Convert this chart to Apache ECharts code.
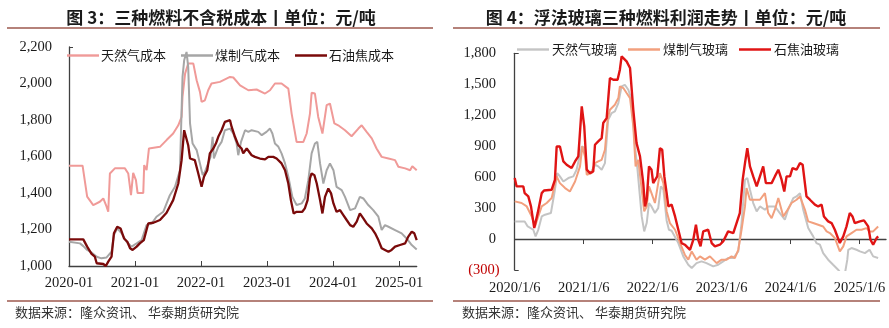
<!DOCTYPE html>
<html><head><meta charset="utf-8">
<script src="https://cdn.jsdelivr.net/npm/echarts@6/dist/echarts.min.js"></script>
<style>html,body{margin:0;padding:0;background:#fff}#c{width:889px;height:328px}</style>
</head><body><div id="c"></div>
<script>
// ---------- Chart 3: cost (元/吨) ----------
const leftTicks = ['2020-01','2021-01','2022-01','2023-01','2024-01','2025-01'];
const gasCostDates = ['2020-01-01','2020-03-15','2020-04-10','2020-05-13','2020-06-19','2020-07-08','2020-07-26','2020-08-05','2020-08-14','2020-09-11','2020-11-06','2020-11-24','2020-12-09','2020-12-21','2021-01-06','2021-01-15','2021-02-16','2021-02-21','2021-03-04','2021-03-17','2021-05-17','2021-06-23','2021-07-29','2021-08-27','2021-09-15','2021-09-20','2021-10-04','2021-10-21','2021-11-19','2021-12-07','2021-12-25','2022-01-04','2022-01-22','2022-02-10','2022-02-28','2022-04-14','2022-06-09','2022-06-27','2022-08-04','2022-09-19','2022-11-04','2022-12-20','2023-01-17','2023-02-14','2023-03-20','2023-04-27','2023-05-15','2023-06-12','2023-07-19','2023-08-07','2023-08-25','2023-09-04','2023-09-22','2023-10-10','2023-11-03','2023-11-26','2023-12-14','2024-01-08','2024-01-29','2024-03-06','2024-04-12','2024-05-19','2024-06-07','2024-07-04','2024-08-02','2024-08-28','2024-09-26','2024-11-03','2024-12-09','2024-12-27','2025-02-04','2025-03-01','2025-03-13','2025-04-07'];
const gasCost = [1550,1550,1380,1334,1352,1370,1325,1297,1507,1535,1535,1507,1388,1510,1470,1400,1400,1553,1525,1644,1653,1690,1726,1771,1817,1927,2054,2109,2109,2018,1954,1899,1908,1963,2000,2009,2036,2033,1990,1963,1967,1945,1963,2000,2000,1972,1835,1680,1680,1726,1835,1949,1945,1817,1726,1881,1890,1781,1771,1744,1711,1753,1771,1735,1699,1644,1598,1589,1580,1544,1535,1525,1547,1525];

const coalCostDates = ['2020-01-01','2020-03-01','2020-03-19','2020-04-10','2020-05-04','2020-06-02','2020-06-28','2020-07-26','2020-08-23','2020-09-06','2020-09-24','2020-10-18','2020-11-15','2020-12-12','2021-01-10','2021-02-07','2021-03-04','2021-04-02','2021-04-28','2021-06-05','2021-07-11','2021-08-09','2021-09-06','2021-09-20','2021-09-29','2021-10-12','2021-10-21','2021-11-01','2021-11-15','2021-12-07','2021-12-25','2022-01-10','2022-01-22','2022-02-10','2022-02-23','2022-03-04','2022-03-11','2022-04-05','2022-04-23','2022-05-11','2022-06-09','2022-06-27','2022-07-15','2022-07-24','2022-08-09','2022-09-01','2022-09-19','2022-10-07','2022-11-13','2022-12-02','2022-12-28','2023-01-17','2023-01-30','2023-02-14','2023-03-03','2023-03-20','2023-04-09','2023-04-27','2023-05-19','2023-06-12','2023-07-10','2023-07-27','2023-08-16','2023-09-04','2023-09-22','2023-10-05','2023-10-20','2023-11-08','2023-11-26','2023-12-14','2024-01-03','2024-01-20','2024-02-18','2024-03-06','2024-04-04','2024-05-01','2024-05-27','2024-06-16','2024-07-13','2024-08-10','2024-09-08','2024-09-26','2024-10-14','2024-11-03','2024-12-09','2025-01-15','2025-02-12','2025-03-10','2025-04-07'];
const coalCost = [1133,1124,1109,1088,1074,1051,1042,1047,1078,1170,1206,1179,1133,1106,1124,1142,1224,1233,1270,1297,1388,1434,1525,2036,2127,2173,2091,1781,1671,1635,1562,1498,1516,1562,1598,1708,1590,1653,1680,1744,1753,1726,1671,1607,1680,1744,1735,1744,1735,1717,1735,1753,1726,1671,1653,1617,1562,1489,1379,1334,1343,1370,1470,1617,1671,1680,1562,1452,1525,1562,1525,1434,1416,1379,1306,1316,1379,1370,1334,1306,1270,1197,1224,1215,1197,1179,1151,1115,1091];

const cokeCostDates = ['2020-01-01','2020-03-19','2020-04-10','2020-05-04','2020-05-22','2020-06-02','2020-07-08','2020-07-22','2020-08-05','2020-08-23','2020-09-06','2020-09-24','2020-10-12','2020-11-01','2020-11-19','2020-12-04','2020-12-18','2021-01-10','2021-01-27','2021-02-19','2021-03-13','2021-04-11','2021-05-17','2021-06-23','2021-07-29','2021-08-27','2021-09-15','2021-09-29','2021-10-09','2021-10-21','2021-11-01','2021-11-27','2021-12-16','2022-01-04','2022-01-17','2022-02-05','2022-02-19','2022-03-08','2022-03-22','2022-04-05','2022-04-23','2022-05-11','2022-06-09','2022-06-18','2022-07-06','2022-07-24','2022-08-12','2022-08-21','2022-09-10','2022-10-07','2022-10-25','2022-11-22','2022-12-20','2023-01-08','2023-02-05','2023-02-23','2023-03-20','2023-04-09','2023-04-27','2023-05-11','2023-05-26','2023-06-12','2023-07-13','2023-07-27','2023-08-12','2023-08-25','2023-09-04','2023-09-19','2023-10-02','2023-10-20','2023-11-03','2023-11-17','2023-12-05','2023-12-20','2024-01-03','2024-01-20','2024-02-09','2024-02-27','2024-03-15','2024-04-04','2024-04-21','2024-05-10','2024-05-27','2024-06-16','2024-07-04','2024-08-02','2024-08-20','2024-09-08','2024-09-26','2024-10-14','2024-11-03','2024-11-20','2024-12-09','2025-01-06','2025-02-04','2025-02-21','2025-03-10','2025-03-24','2025-04-07'];
const cokeCost = [1146,1146,1106,1066,1051,1015,1011,1000,1024,1051,1179,1215,1206,1151,1133,1097,1088,1106,1124,1142,1233,1237,1252,1292,1361,1452,1580,1744,1753,1662,1589,1580,1507,1434,1489,1525,1617,1644,1671,1708,1744,1790,1799,1762,1708,1662,1644,1617,1644,1607,1598,1589,1584,1598,1598,1589,1562,1525,1452,1361,1288,1297,1297,1316,1361,1480,1507,1498,1452,1361,1288,1379,1425,1398,1343,1297,1306,1279,1252,1224,1215,1243,1288,1261,1233,1206,1179,1142,1097,1088,1078,1088,1106,1115,1124,1161,1188,1179,1142];

// ---------- Chart 4: profit (元/吨) ----------
const rightTicks = ['2020/1/6','2021/1/6','2022/1/6','2023/1/6','2024/1/6','2025/1/6'];
const gasProfitDates = ['2020-01-06','2020-02-28','2020-03-14','2020-04-13','2020-04-25','2020-05-09','2020-05-27','2020-06-14','2020-07-15','2020-08-06','2020-08-18','2020-09-02','2020-09-20','2020-10-16','2020-11-12','2020-11-29','2020-12-26','2021-01-13','2021-01-25','2021-02-17','2021-03-05','2021-03-22','2021-04-10','2021-04-27','2021-05-14','2021-06-02','2021-06-19','2021-07-07','2021-07-24','2021-08-11','2021-08-29','2021-09-16','2021-10-04','2021-10-17','2021-11-09','2021-11-22','2021-12-05','2021-12-17','2021-12-30','2022-01-18','2022-02-05','2022-02-19','2022-03-02','2022-03-19','2022-04-01','2022-04-15','2022-05-20','2022-06-16','2022-07-12','2022-07-30','2022-08-25','2022-09-21','2022-10-17','2022-11-22','2022-12-18','2023-01-14','2023-02-10','2023-03-07','2023-04-03','2023-04-20','2023-05-08','2023-05-20','2023-06-04','2023-06-21','2023-07-09','2023-07-26','2023-08-22','2023-09-09','2023-10-14','2023-11-10','2023-12-06','2023-12-23','2024-01-20','2024-02-07','2024-02-25','2024-03-12','2024-04-08','2024-05-04','2024-05-21','2024-06-09','2024-06-26','2024-07-22','2024-08-18','2024-09-14','2024-10-02','2024-10-19','2024-11-02','2024-11-07','2024-11-24','2024-12-20','2025-01-08','2025-02-04','2025-02-28','2025-03-17','2025-04-13'];
const gasProfit = [171,171,122,90,26,90,219,236,252,478,639,607,558,591,607,672,897,881,639,655,720,704,672,736,1156,1221,1237,1318,1479,1495,1447,1350,897,672,219,74,155,349,316,252,300,510,478,180,90,80,-39,-168,-249,-281,-233,-216,-233,-265,-249,-216,-184,-184,-120,155,575,591,478,349,268,316,284,316,316,252,187,284,397,413,445,284,106,26,-39,-55,-136,-200,-249,-297,-340,-340,-200,-104,-87,-104,-120,-136,-104,-168,-184];

const coalProfitDates = ['2020-01-06','2020-02-12','2020-03-09','2020-04-05','2020-04-22','2020-05-09','2020-05-27','2020-06-23','2020-07-19','2020-08-15','2020-09-02','2020-09-29','2020-10-24','2020-11-21','2020-12-17','2020-12-29','2021-01-13','2021-01-22','2021-02-17','2021-03-05','2021-03-22','2021-04-10','2021-04-27','2021-05-11','2021-05-23','2021-06-19','2021-07-07','2021-07-15','2021-08-03','2021-08-20','2021-09-08','2021-09-25','2021-10-07','2021-10-21','2021-11-09','2021-11-22','2021-12-05','2021-12-17','2021-12-30','2022-01-18','2022-02-05','2022-02-14','2022-03-02','2022-03-19','2022-04-06','2022-05-03','2022-05-29','2022-06-24','2022-07-12','2022-07-30','2022-08-25','2022-09-13','2022-10-09','2022-11-05','2022-12-10','2023-01-06','2023-02-02','2023-02-28','2023-03-15','2023-04-03','2023-04-20','2023-05-08','2023-05-16','2023-06-04','2023-06-30','2023-07-26','2023-08-22','2023-09-09','2023-09-27','2023-10-14','2023-11-02','2023-11-28','2023-12-15','2024-01-11','2024-02-07','2024-02-25','2024-03-21','2024-04-08','2024-05-04','2024-05-30','2024-06-26','2024-07-14','2024-08-01','2024-08-27','2024-09-23','2024-10-11','2024-10-28','2024-11-24','2024-12-20','2025-01-16','2025-02-12','2025-02-28','2025-03-17','2025-04-13'];
const coalProfit = [365,349,316,219,122,219,316,349,397,607,542,494,461,558,704,897,801,623,639,736,752,768,865,1156,1253,1302,1366,1479,1463,1415,1366,1091,704,768,478,268,316,510,445,349,542,639,542,270,155,90,-39,-152,-200,-120,-200,-168,-200,-168,-233,-200,-200,-168,-184,-104,90,316,494,381,381,381,445,252,203,284,397,219,268,349,381,413,284,171,155,139,122,74,58,10,-120,-71,26,58,90,90,106,74,74,122];

const cokeProfitDates = ['2020-01-06','2020-01-16','2020-02-21','2020-02-28','2020-03-17','2020-04-01','2020-04-18','2020-05-06','2020-05-27','2020-06-09','2020-07-19','2020-08-06','2020-08-15','2020-09-02','2020-09-20','2020-10-07','2020-11-03','2020-11-21','2020-12-08','2020-12-26','2021-01-09','2021-01-22','2021-02-09','2021-02-26','2021-03-05','2021-03-22','2021-04-10','2021-04-18','2021-05-06','2021-05-23','2021-06-11','2021-07-03','2021-07-15','2021-07-24','2021-08-03','2021-08-20','2021-09-08','2021-09-25','2021-10-12','2021-10-30','2021-11-17','2021-11-26','2021-12-05','2021-12-17','2021-12-30','2022-01-09','2022-01-18','2022-01-30','2022-02-14','2022-02-26','2022-03-07','2022-03-19','2022-03-28','2022-04-15','2022-05-03','2022-05-20','2022-06-07','2022-06-24','2022-07-21','2022-08-08','2022-08-22','2022-09-04','2022-09-16','2022-09-30','2022-10-26','2022-11-14','2022-12-01','2022-12-27','2023-01-14','2023-02-10','2023-03-07','2023-03-24','2023-04-11','2023-04-26','2023-05-08','2023-05-20','2023-06-04','2023-06-21','2023-07-09','2023-07-26','2023-08-13','2023-08-27','2023-09-27','2023-10-14','2023-11-02','2023-11-19','2023-12-03','2023-12-15','2024-01-03','2024-01-16','2024-02-07','2024-02-25','2024-03-09','2024-03-29','2024-04-17','2024-05-13','2024-05-30','2024-06-18','2024-06-30','2024-07-22','2024-08-10','2024-08-27','2024-09-23','2024-10-11','2024-10-28','2024-11-15','2024-11-29','2024-12-11','2025-01-08','2025-01-29','2025-02-21','2025-03-03','2025-03-17','2025-04-05','2025-04-13'];
const cokeProfit = [591,510,510,445,413,316,106,251,445,470,478,574,897,897,752,720,688,752,801,1285,1091,672,639,655,914,946,978,1124,1172,1560,1544,1544,1641,1770,1786,1722,1657,1253,930,801,542,316,381,704,672,542,526,607,881,865,607,445,316,333,219,90,-39,-55,-104,-7,139,-7,-71,74,90,-39,-71,-55,-23,74,58,155,252,575,736,881,704,607,510,607,704,542,542,607,672,575,461,607,607,688,672,736,720,413,381,333,316,333,219,171,155,90,-39,26,123,252,219,155,171,181,123,-7,-55,10,26];

// ---------- helpers ----------
function monthOffset(d){ const p=d.split('-').map(Number); return (p[0]-2020)*12+(p[1]-1)+(p[2]-1)/30; }
function pairs(dates, vals, base){ return dates.map((d,i)=>[monthOffset(d)-base, vals[i]]); }
const baseL = monthOffset('2020-01-01');
const baseR = monthOffset('2020-01-06');
const fmtNum = v => Math.round(v).toLocaleString('en-US');

const serif = '"Liberation Serif","Times New Roman",serif';
const cjk = '"Noto Sans CJK SC","Noto Sans",sans-serif';
const axisColor = '#404040';
const lbl = {fontFamily: serif, fontSize: 14.5, color: '#1a1a1a'};

const chart = echarts.init(document.getElementById('c'), null, {renderer:'canvas'});
chart.setOption({
  animation: false,
  backgroundColor: '#fff',
  grid: [
    {left: 69, top: 47, width: 347.7, height: 219, containLabel: false},
    {left: 514.7, top: 53.3, width: 371.3, height: 216.7, containLabel: false}
  ],
  legend: [
    {left: 67, top: 49, padding: 0, icon: 'rect', itemWidth: 32, itemHeight: 2.4, itemGap: 15,
     data: ['天然气成本','煤制气成本','石油焦成本'],
     textStyle: {fontFamily: cjk, fontSize: 13, color: '#1a1a1a', padding: [0,0,0,-3]}},
    {left: 517, top: 43, padding: 0, icon: 'rect', itemWidth: 32, itemHeight: 2.4, itemGap: 11,
     data: ['天然气玻璃','煤制气玻璃','石焦油玻璃'],
     textStyle: {fontFamily: cjk, fontSize: 13, color: '#1a1a1a', padding: [0,0,0,-2]}}
  ],
  xAxis: [
    {gridIndex: 0, type: 'value', min: 0, max: 63.2, interval: 12,
     axisLine: {onZero: false, lineStyle: {color: axisColor, width: 1.3}},
     axisTick: {inside: true, length: 5, customValues: [0,12,24,36,48,60], lineStyle: {color: axisColor}},
     axisLabel: Object.assign({margin: 10, customValues: [0,12,24,36,48,60],
       formatter: v => leftTicks[Math.round(v/12)] || ''}, lbl),
     splitLine: {show: false}},
    {gridIndex: 1, type: 'value', min: 0, max: 64.6, interval: 12,
     axisLine: {show: false, onZero: false},
     axisTick: {show: false},
     axisLabel: Object.assign({margin: 11, customValues: [0,12,24,36,48,60],
       formatter: v => rightTicks[Math.round(v/12)] || ''}, lbl),
     splitLine: {show: false}},
    {gridIndex: 1, type: 'value', min: 0, max: 64.6, interval: 12,
     axisLine: {onZero: true, lineStyle: {color: axisColor, width: 1.3}},
     axisTick: {inside: true, length: 5, customValues: [0,12,24,36,48,60], lineStyle: {color: axisColor}},
     axisLabel: {show: false},
     splitLine: {show: false}}
  ],
  yAxis: [
    {gridIndex: 0, type: 'value', min: 1000, max: 2200, interval: 200,
     axisLine: {show: true, lineStyle: {color: axisColor, width: 1.3}},
     axisTick: {show: true, inside: true, length: 4, customValues: [2200], lineStyle: {color: axisColor}},
     axisLabel: Object.assign({margin: 17, formatter: fmtNum}, lbl),
     splitLine: {show: false}},
    {gridIndex: 1, type: 'value', min: -300, max: 1800, interval: 300,
     axisLine: {show: true, onZero: false, lineStyle: {color: axisColor, width: 1.3}},
     axisTick: {show: true, inside: true, length: 4, customValues: [-300, 1800], lineStyle: {color: axisColor}},
     axisLabel: Object.assign({margin: 15,
       formatter: v => v < 0 ? '{neg|(' + fmtNum(-v) + ')}' : fmtNum(v) + ' ',
       rich: {neg: {fontFamily: serif, fontSize: 14.5, color: '#c00000'}}}, lbl),
     splitLine: {show: false}}
  ],
  series: [
    {name: '天然气成本', type: 'line', xAxisIndex: 0, yAxisIndex: 0, symbol: 'none',
     data: pairs(gasCostDates, gasCost, baseL), lineStyle: {color: '#f09a98', width: 2}, itemStyle: {color: '#f09a98'}},
    {name: '煤制气成本', type: 'line', xAxisIndex: 0, yAxisIndex: 0, symbol: 'none',
     data: pairs(coalCostDates, coalCost, baseL), lineStyle: {color: '#a6a6a6', width: 2}, itemStyle: {color: '#a6a6a6'}},
    {name: '石油焦成本', type: 'line', xAxisIndex: 0, yAxisIndex: 0, symbol: 'none',
     data: pairs(cokeCostDates, cokeCost, baseL), lineStyle: {color: '#7a0a0a', width: 2.3}, itemStyle: {color: '#7a0a0a'}},
    {name: '天然气玻璃', type: 'line', xAxisIndex: 1, yAxisIndex: 1, symbol: 'none',
     data: pairs(gasProfitDates, gasProfit, baseR), lineStyle: {color: '#c4c4c4', width: 2}, itemStyle: {color: '#c4c4c4'}},
    {name: '煤制气玻璃', type: 'line', xAxisIndex: 1, yAxisIndex: 1, symbol: 'none',
     data: pairs(coalProfitDates, coalProfit, baseR), lineStyle: {color: '#f2a07e', width: 2}, itemStyle: {color: '#f2a07e'}},
    {name: '石焦油玻璃', type: 'line', xAxisIndex: 1, yAxisIndex: 1, symbol: 'none',
     data: pairs(cokeProfitDates, cokeProfit, baseR), lineStyle: {color: '#e01414', width: 2.4}, itemStyle: {color: '#e01414'}}
  ],
  graphic: [
    {type: 'text', x: 221, y: 18, style: {text: '图 3：三种燃料不含税成本丨单位：元/吨', align: 'center', verticalAlign: 'middle',
      fontFamily: cjk, fontSize: 17, fontWeight: 'bold', fill: '#1a1a1a'}},
    {type: 'text', x: 666, y: 18, style: {text: '图 4：浮法玻璃三种燃料利润走势丨单位：元/吨', align: 'center', verticalAlign: 'middle',
      fontFamily: cjk, fontSize: 17, fontWeight: 'bold', fill: '#1a1a1a'}},
    {type: 'line', shape: {x1: 7, y1: 28, x2: 433, y2: 28}, style: {stroke: '#b5827a', lineWidth: 2}},
    {type: 'line', shape: {x1: 453, y1: 28, x2: 880, y2: 28}, style: {stroke: '#b5827a', lineWidth: 2}},
    {type: 'line', shape: {x1: 7, y1: 301, x2: 433, y2: 301}, style: {stroke: '#b5827a', lineWidth: 2}},
    {type: 'line', shape: {x1: 453, y1: 301, x2: 880, y2: 301}, style: {stroke: '#b5827a', lineWidth: 2}},
    {type: 'text', x: 15, y: 312, style: {text: '数据来源：隆众资讯、 华泰期货研究院', align: 'left', verticalAlign: 'middle',
      fontFamily: cjk, fontSize: 13, fill: '#333'}},
    {type: 'text', x: 462, y: 312, style: {text: '数据来源：隆众资讯、 华泰期货研究院', align: 'left', verticalAlign: 'middle',
      fontFamily: cjk, fontSize: 13, fill: '#333'}}
  ]
});
</script></body></html>
